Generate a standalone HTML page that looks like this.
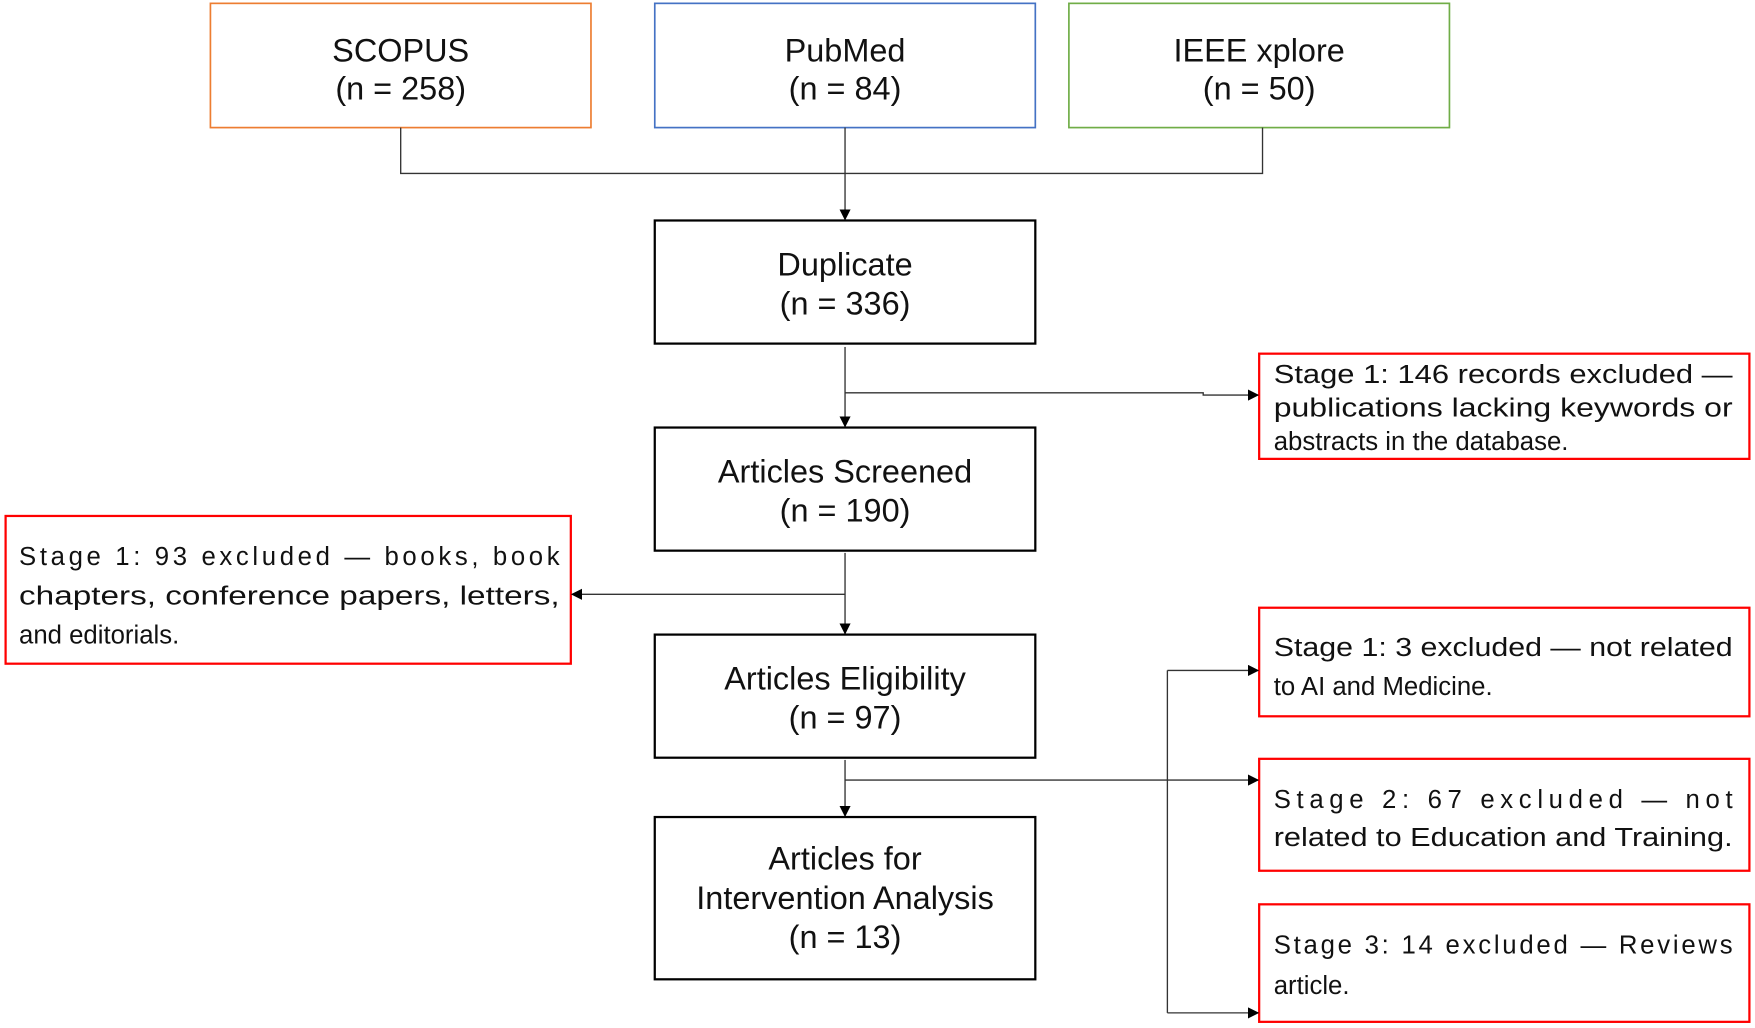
<!DOCTYPE html>
<html><head><meta charset="utf-8"><style>html,body{margin:0;padding:0;background:#fff}svg{display:block}</style></head>
<body>
<svg width="1755" height="1028" viewBox="0 0 1568 918.5" preserveAspectRatio="none" xmlns="http://www.w3.org/2000/svg" font-family="'Liberation Sans', sans-serif">
<defs><marker id="a" markerWidth="10" markerHeight="10" refX="9" refY="5" orient="auto" markerUnits="userSpaceOnUse"><path d="M0,0 L10,5 L0,10 z" fill="#000"/></marker></defs>
<g fill="none" stroke-width="1.5">
<rect x="188" y="3" width="340" height="111" stroke="#ED7D31"/>
<rect x="585" y="3" width="340" height="111" stroke="#4472C4"/>
<rect x="955" y="3" width="340" height="111" stroke="#70AD47"/>
<g stroke="#000" stroke-width="2">
<rect x="585" y="197" width="340" height="110"/>
<rect x="585" y="382" width="340" height="110"/>
<rect x="585" y="567" width="340" height="110"/>
<rect x="585" y="730" width="340" height="145"/>
</g>
<g stroke="#f00" stroke-width="2">
<rect x="1125" y="316" width="438" height="94"/>
<rect x="5" y="461" width="505" height="132"/>
<rect x="1125" y="543" width="438" height="97"/>
<rect x="1125" y="678" width="438" height="100"/>
<rect x="1125" y="808" width="438" height="105"/>
</g>
<g stroke="#333" stroke-width="1.2">
<path d="M358 114 V155 H1128 V114"/>
<path d="M755 114 V196" marker-end="url(#a)"/>
<path d="M755 310 V381" marker-end="url(#a)"/>
<path d="M755 351 H1075 V353 H1124" marker-end="url(#a)"/>
<path d="M755 494 V566" marker-end="url(#a)"/>
<path d="M755 531 H511" marker-end="url(#a)"/>
<path d="M755 679 V729" marker-end="url(#a)"/>
<path d="M755 697 H1124" marker-end="url(#a)"/>
<path d="M1043 599 V905"/>
<path d="M1043 599 H1124" marker-end="url(#a)"/>
<path d="M1043 905 H1124" marker-end="url(#a)"/>
</g>
</g>
<g font-size="29" text-anchor="middle" fill="#111">
<text x="358" y="55">SCOPUS</text><text x="358" y="89">(n = 258)</text>
<text x="755" y="55">PubMed</text><text x="755" y="89">(n = 84)</text>
<text x="1125" y="55">IEEE xplore</text><text x="1125" y="89">(n = 50)</text>
<text x="755" y="246">Duplicate</text><text x="755" y="281">(n = 336)</text>
<text x="755" y="431">Articles Screened</text><text x="755" y="466">(n = 190)</text>
<text x="755" y="616">Articles Eligibility</text><text x="755" y="651">(n = 97)</text>
<text x="755" y="777">Articles for</text><text x="755" y="812">Intervention Analysis</text><text x="755" y="847">(n = 13)</text>
</g>
<g font-size="23" fill="#111">
<text x="1138" y="342" textLength="410" lengthAdjust="spacingAndGlyphs">Stage 1: 146 records excluded —</text>
<text x="1138" y="372" textLength="410" lengthAdjust="spacingAndGlyphs">publications lacking keywords or</text>
<text x="1138" y="402">abstracts in the database.</text>
<text x="17" y="505" textLength="483" lengthAdjust="spacing">Stage 1: 93 excluded — books, book</text>
<text x="17" y="540" textLength="483" lengthAdjust="spacingAndGlyphs">chapters, conference papers, letters,</text>
<text x="17" y="575">and editorials.</text>
<text x="1138" y="586" textLength="410" lengthAdjust="spacingAndGlyphs">Stage 1: 3 excluded — not related</text>
<text x="1138" y="621">to AI and Medicine.</text>
<text x="1138" y="722" textLength="410" lengthAdjust="spacing">Stage 2: 67 excluded — not</text>
<text x="1138" y="756" textLength="410" lengthAdjust="spacingAndGlyphs">related to Education and Training.</text>
<text x="1138" y="852" textLength="410" lengthAdjust="spacing">Stage 3: 14 excluded — Reviews</text>
<text x="1138" y="888">article.</text>
</g>
</svg>
</body></html>
